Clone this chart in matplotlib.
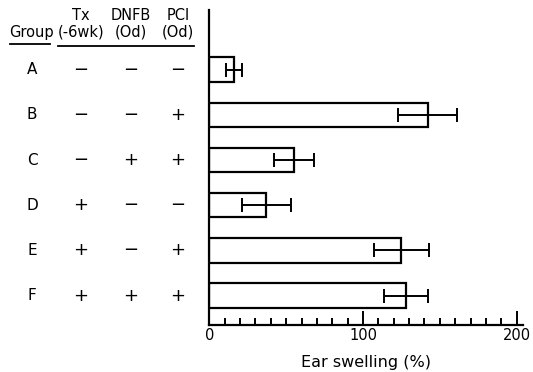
import matplotlib
matplotlib.use("Agg")
import matplotlib.pyplot as plt
from matplotlib.lines import Line2D
from matplotlib.ticker import MultipleLocator

groups = ["A", "B", "C", "D", "E", "F"]
tx = ["−", "−", "−", "+", "+", "+"]
dnfb = ["−", "−", "+", "−", "−", "+"]
pcl = ["−", "+", "+", "−", "+", "+"]
swelling = [16, 142, 55, 37, 125, 128]
errors = [5, 19, 13, 16, 18, 14.5]
col_headers = [("Tx", "(-6wk)"), ("DNFB", "(Od)"), ("PCl", "(Od)")]

W, H = 533, 372
fig = plt.figure(figsize=(W / 100, H / 100), dpi=100)
plt.rcParams['font.family'] = ['DejaVu Sans']

def fx(px):
    return px / W

def fy(py):
    return 1 - py / H

# axes placement
x0_px, unit_px = 209.3, 1.537
xmax = 204
ax_left = x0_px
ax_right = x0_px + xmax * unit_px
ax_top, ax_bot = 10, 325
ax = fig.add_axes([fx(ax_left), fy(ax_bot), (ax_right - ax_left) / W, (ax_bot - ax_top) / H])

pos = list(range(len(groups)))
ax.barh(pos, swelling, height=0.54, color="white", edgecolor="black", linewidth=1.6)
ax.errorbar(swelling, pos, xerr=errors, fmt="none", ecolor="black", elinewidth=1.4,
            capsize=5, capthick=1.4)

ax.set_xlim(0, xmax)
ax.set_ylim(5.65, -1.32)
for s in ["top", "right"]:
    ax.spines[s].set_visible(False)
ax.spines["left"].set_linewidth(1.6)
ax.spines["bottom"].set_linewidth(1.6)
ax.set_yticks([])
ax.xaxis.set_major_locator(MultipleLocator(100))
ax.xaxis.set_minor_locator(MultipleLocator(10))
ax.tick_params(axis="x", which="major", direction="in", length=10, width=1.4, labelsize=10.5, pad=2)
ax.tick_params(axis="x", which="minor", direction="in", length=5, width=1.4)
ax.set_xlabel("Ear swelling (%)", fontsize=11.5, labelpad=9)

# table on the left
row_y = [69.6 + 45.2 * i for i in range(len(groups))]
col_x = [81, 131, 178]
fs = 10.5
fig.text(fx(31), fy(32), "Group", ha="center", va="center", fontsize=fs)
for (h1, h2), cx in zip(col_headers, col_x):
    fig.text(fx(cx), fy(16), h1, ha="center", va="center", fontsize=fs)
    fig.text(fx(cx), fy(32), h2, ha="center", va="center", fontsize=fs)
fig.add_artist(Line2D([fx(10), fx(50)], [fy(44), fy(44)], color="black", lw=1.3))
fig.add_artist(Line2D([fx(58), fx(194)], [fy(46), fy(46)], color="black", lw=1.3))

for i, y in enumerate(row_y):
    fig.text(fx(32), fy(y), groups[i], ha="center", va="center", fontsize=fs + 0.5)
    for col, cx in zip([tx, dnfb, pcl], col_x):
        fig.text(fx(cx), fy(y), col[i], ha="center", va="center", fontsize=13)

fig.savefig("out.png", dpi=100)
